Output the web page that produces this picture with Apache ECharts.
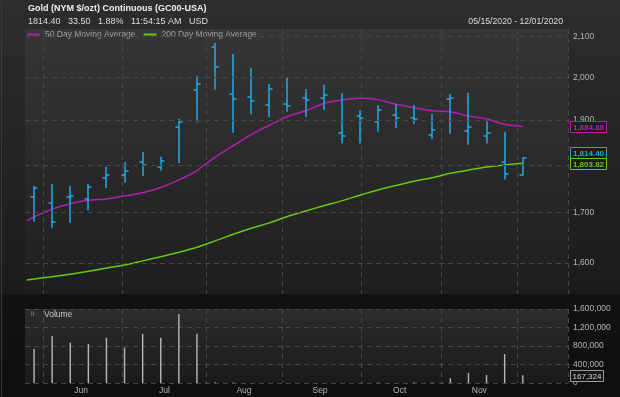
<!DOCTYPE html>
<html><head><meta charset="utf-8">
<script src="https://cdn.jsdelivr.net/npm/echarts@6/dist/echarts.min.js"></script>
<style>html,body{margin:0;padding:0;background:#1a1a1a}#c{width:620px;height:397px}</style>
</head><body><div id="c"></div>
<script>
// ---- data ----
const barDates = ['2020-05-27','2020-06-03','2020-06-10','2020-06-17','2020-06-24','2020-07-01','2020-07-08','2020-07-15','2020-07-22','2020-07-29','2020-08-05','2020-08-12','2020-08-19','2020-08-26','2020-09-02','2020-09-09','2020-09-16','2020-09-23','2020-09-30','2020-10-07','2020-10-14','2020-10-21','2020-10-28','2020-11-04','2020-11-11','2020-11-18','2020-11-25','2020-12-02'];
const opens  = [1731,1719,1731,1728,1773,1778,1806,1795,1883,1970,2073,1961,1952,1934,1936,1951,1950,1870,1908,1896,1911,1905,1865,1948,1875,1864,1806,1779];
const highs  = [1755,1759,1755,1759,1796,1806,1828,1818,1903,2003,2085,2057,2022,1984,1999,1972,1982,1962,1922,1934,1936,1934,1914,1960,1963,1897,1873,1817];
const lows   = [1681,1669,1679,1704,1751,1762,1776,1788,1804,1895,1970,1871,1913,1906,1919,1907,1923,1847,1847,1873,1882,1891,1857,1869,1844,1847,1769,1778];
const closes = [1750,1681,1735,1752,1779,1788,1799,1808,1895,1983,2026,1948,1943,1971,1932,1945,1959,1864,1904,1924,1904,1902,1877,1950,1883,1870,1781,1814.40];
const volumes = [735000,1016000,871000,843000,980000,764000,1060000,980000,1492000,1066000,15000,10000,0,0,0,0,0,0,0,12000,0,12000,10000,101000,216000,173000,627000,167324];
const maStartDate = '2020-05-25';
const ma50  = [1683,1691,1707,1718,1725,1728,1734,1741,1752,1768,1788,1817,1842,1867,1888,1908,1921,1938,1946,1950,1947,1936,1928,1921,1919,1909,1902,1890,1884.88];
const ma200 = [1567.5,1569.4,1573.8,1578.3,1584,1590.3,1596,1604,1612,1620.6,1630.4,1643,1656,1668,1679,1692,1703,1714,1724,1735.5,1746.6,1756,1765,1772.6,1782,1789,1795.6,1800,1803.82];
const priceTicks = [1600,1700,1800,1900,2000,2100];
const monthNames = ['Jan','Feb','Mar','Apr','May','Jun','Jul','Aug','Sep','Oct','Nov','Dec'];
const axisStart = '2020-05-25', axisEnd = '2020-12-18';

// ---- weekday categories ----
const days = [];
(function(){
  let d = new Date(axisStart + 'T00:00:00Z'); const e = new Date(axisEnd + 'T00:00:00Z');
  while (d <= e) { const w = d.getUTCDay(); if (w !== 0 && w !== 6) days.push(d.toISOString().slice(0,10)); d = new Date(d.getTime() + 86400000); }
})();
const monthOf = s => +s.slice(5,7);
const monthStart = days.map((s,i) => i > 0 && monthOf(s) !== monthOf(days[i-1]));
const monthMid = days.map(() => false);
(function(){
  let groups = [];
  days.forEach((s,i) => { const m = monthOf(s); if (!groups.length || groups[groups.length-1].m !== m) groups.push({m, a:i, b:i}); else groups[groups.length-1].b = i; });
  groups.slice(1, -1).forEach(g => { monthMid[Math.floor((g.a + g.b) / 2)] = true; });
})();

const C_BAR = '#1ea6e2', C_50 = '#b41cb4', C_200 = '#68c812';
const FONT = '"Liberation Sans", Arial, sans-serif';
const fmt = v => Math.round(v).toLocaleString('en-US');
const grid = '#474747';

const chart = echarts.init(document.getElementById('c'));
const option = {
  animation: false,
  textStyle: { fontFamily: FONT },
  backgroundColor: { type:'linear', x:0, y:0, x2:0, y2:1, colorStops:[
    {offset:0, color:'#2d2d2d'}, {offset:0.74, color:'#1b1b1b'}, {offset:0.742, color:'#121212'}, {offset:1, color:'#0f0f0f'}] },
  legend: {
    data: ['50 Day Moving Average','200 Day Moving Average'],
    left: 27, top: 29.5, padding: 0, itemGap: 8, itemWidth: 13, itemHeight: 2, icon: 'rect',
    textStyle: { color:'#a0a0a0', fontSize: 8.5, lineHeight: 10, fontFamily: FONT },
    selectedMode: false
  },
  grid: [
    { left: 25, right: 52, top: 29, height: 265, show: true, borderWidth: 0,
      backgroundColor: { type:'linear', x:0, y:0, x2:0, y2:1, colorStops:[{offset:0,color:'#363636'},{offset:1,color:'#1e1e1e'}] } },
    { left: 25, right: 52, top: 309, height: 74, show: true, borderWidth: 0,
      backgroundColor: { type:'linear', x:0, y:0, x2:0, y2:1, colorStops:[{offset:0,color:'#2c2c2c'},{offset:1,color:'#1a1a1a'}] } }
  ],
  xAxis: [
    { type:'category', gridIndex:0, data: days, boundaryGap: true,
      axisLine:{show:false}, axisTick:{show:false}, axisLabel:{show:false},
      splitLine:{ show:true, interval: (i) => monthStart[i], lineStyle:{ color: grid, type:[5,4], width:1 } } },
    { type:'category', gridIndex:1, data: days, boundaryGap: true,
      axisLine:{show:false}, axisTick:{show:false},
      axisLabel:{ show:true, interval: (i) => monthMid[i], formatter: v => monthNames[monthOf(v)-1], color:'#b4b4b4', fontSize:8.5, margin:3 },
      splitLine:{ show:true, interval: (i) => monthStart[i], lineStyle:{ color: grid, type:[5,4], width:1 } } }
  ],
  yAxis: [
    { type:'log', gridIndex:0, min: 1541.4, max: 2119.5, show: false, splitLine:{show:false} },
    { type:'value', gridIndex:1, position:'right', min:0, max:1600000, interval:400000,
      axisLine:{show:false}, axisTick:{show:false},
      axisLabel:{ color:'#b4b4b4', fontSize:8.5, margin:5, formatter: v => fmt(v) },
      splitLine:{ show:true, lineStyle:{ color: grid, type:[5,4], width:1 } } }
  ],
  series: [
    { type:'line', xAxisIndex:0, yAxisIndex:0, data: [], silent: true, z: 1,
      markLine: { silent: true, symbol:['none','none'], animation:false,
        lineStyle:{ color: grid, type:[5,4], width:1 },
        label:{ show:true, position:'end', distance:5, color:'#b4b4b4', fontSize:8.5, fontFamily: FONT, formatter: p => fmt(p.value) },
        emphasis:{ disabled:true },
        data: priceTicks.map(v => ({ yAxis: v })) } },
    { name:'200 Day Moving Average', type:'line', xAxisIndex:0, yAxisIndex:0, color: C_200,
      data: ma200.map((v,i) => [i === 0 ? maStartDate : barDates[i-1], v]),
      showSymbol:false, smooth:0.2, lineStyle:{ color:C_200, width:1.5 }, z: 3 },
    { name:'50 Day Moving Average', type:'line', xAxisIndex:0, yAxisIndex:0, color: C_50,
      data: ma50.map((v,i) => [i === 0 ? maStartDate : barDates[i-1], v]),
      showSymbol:false, smooth:0.2, lineStyle:{ color:C_50, width:1.5 }, z: 3 },
    { type:'custom', xAxisIndex:0, yAxisIndex:0, z: 4, color: C_BAR, silent: true,
      encode:{ x:0, y:[1,2,3,4] },
      data: barDates.map((d,i) => [d, opens[i], highs[i], lows[i], closes[i]]),
      renderItem: function(params, api){
        const idx = api.value(0);
        const pH = api.coord([idx, api.value(2)]);
        const xc = Math.round(pH[0]);
        const yH = pH[1], yL = api.coord([idx, api.value(3)])[1];
        const yO = Math.round(api.coord([idx, api.value(1)])[1]);
        const yC = Math.round(api.coord([idx, api.value(4)])[1]);
        const st = () => ({ stroke: C_BAR, lineWidth: 1.6, fill: null });
        return { type:'group', children:[
          { type:'line', shape:{ x1:xc, y1:yH, x2:xc, y2:yL }, style: st() },
          { type:'line', shape:{ x1:xc-3.5, y1:yO, x2:xc, y2:yO }, style: st() },
          { type:'line', shape:{ x1:xc, y1:yC, x2:xc+3.5, y2:yC }, style: st() }
        ]};
      } },
    { type:'bar', xAxisIndex:1, yAxisIndex:1, barWidth:1.4, z: 3, silent: true,
      data: barDates.map((d,i) => [d, volumes[i]]),
      itemStyle:{ color:'#b8b8b8' } }
  ]
};
chart.setOption(option);

// header texts and axis value boxes
const T = (id, x, y, text, fill, font, align) => ({ id, type:'text', x, y, silent:true, z: 110,
  style:{ text, fill, font, align: align || 'left', verticalAlign:'middle' } });
const graphics = [
  { id:'frame', type:'line', shape:{x1:1.5,y1:0,x2:1.5,y2:397}, style:{stroke:'#3a3a3a', lineWidth:1}, silent:true },
  T('t1', 28, 8.5, 'Gold (NYM $/ozt) Continuous (GC00-USA)', '#f0f0f0', 'bold 9px ' + FONT),
  T('t2', 28, 22, '1814.40   33.50   1.88%   11:54:15 AM   USD', '#dcdcdc', '9px ' + FONT),
  T('t3', 563, 21.7, '05/15/2020 - 12/01/2020', '#dcdcdc', '8.7px ' + FONT, 'right'),
  T('t4', 31, 314.5, 'ii', '#8a8a8a', '7px ' + FONT),
  T('t5', 44, 314.5, 'Volume', '#c8c8c8', '8.5px ' + FONT)
];
const boxes = [
  { v: 1884.88, c: C_50 }, { v: 1814.40, c: C_BAR }, { v: 1803.82, c: C_200 }
].map(b => Object.assign(b, { y: chart.convertToPixel({ yAxisIndex: 0 }, b.v) }));
boxes.sort((a,b) => a.y - b.y);
for (let i = boxes.length - 2; i >= 0; i--) if (boxes[i].y > boxes[i+1].y - 11) boxes[i].y = boxes[i+1].y - 11;
boxes.forEach((b,i) => {
  const top = Math.round(b.y - 5.5) + 0.5;
  graphics.push({ id:'br'+i, type:'rect', silent:true, z:101, shape:{ x:570.5, y:top, width:36, height:11 }, style:{ fill:'#1c1c1c', stroke:b.c, lineWidth:1 } });
  graphics.push(T('bt'+i, 588.5, top + 6, b.v.toLocaleString('en-US',{minimumFractionDigits:2}), b.c, 'bold 8px ' + FONT, 'center'));
});
const lastVol = volumes[volumes.length-1];
const vy = Math.round(chart.convertToPixel({ yAxisIndex: 1 }, lastVol) - 5.5) + 0.5;
graphics.push({ id:'vr', type:'rect', silent:true, z:101, shape:{ x:570.5, y:vy, width:33, height:11 }, style:{ fill:'#161616', stroke:'#9a9a9a', lineWidth:1 } });
graphics.push(T('vt', 587, vy + 6, fmt(lastVol), '#d0d0d0', '8px ' + FONT, 'center'));
chart.setOption({ graphic: graphics });
</script>
</body></html>
